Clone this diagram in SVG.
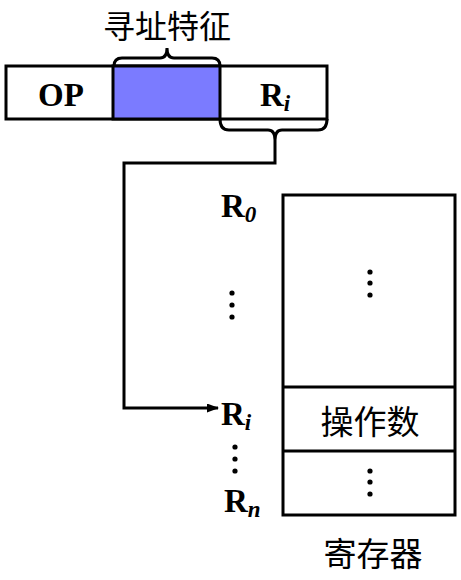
<svg xmlns="http://www.w3.org/2000/svg" width="461" height="580" viewBox="0 0 461 580">
<style>
.ln{fill:none;stroke:#000;stroke-width:3}
.bx{fill:#fff;stroke:#000;stroke-width:3}
.lt{font-family:"Liberation Serif",serif;font-weight:bold;font-size:33px;fill:#000}
.sub{font-family:"Liberation Serif",serif;font-weight:bold;font-style:italic;font-size:23px}
.cj{font-family:"Noto Sans CJK SC","Noto Sans",sans-serif;font-size:33px;fill:#000}
</style>
<defs>
<marker id="ah" markerWidth="12" markerHeight="9" refX="11" refY="4.5" orient="auto" markerUnits="userSpaceOnUse">
<path d="M0,0 L12,4.5 L0,9 Z" fill="#000"/>
</marker>
</defs>
<g id="instruction">
<rect class="bx" x="6" y="66" width="321" height="53"/>
<rect x="113" y="66" width="107" height="53" fill="#7b7bff" stroke="#000" stroke-width="3"/>
<text class="lt" x="61" y="106" text-anchor="middle">OP</text>
<text class="lt" x="260" y="106">R<tspan class="sub" dy="5">i</tspan></text>
</g>
<g id="label-top">
<text class="cj" x="167" y="38" text-anchor="middle" style="font-size:32px">寻址特征</text>
</g>
<g id="registers">
<rect class="bx" x="283" y="195" width="172" height="320"/>
<line class="ln" x1="283" y1="387" x2="455" y2="387"/>
<line class="ln" x1="283" y1="451" x2="455" y2="451"/>
<text class="cj" x="370" y="434" text-anchor="middle">操作数</text>
<g fill="#000">
<circle cx="370" cy="272" r="2.6"/><circle cx="370" cy="283" r="2.6"/><circle cx="370" cy="295" r="2.6"/>
<circle cx="370" cy="471" r="2.6"/><circle cx="370" cy="482" r="2.6"/><circle cx="370" cy="494" r="2.6"/>
</g>
<text class="cj" x="373" y="566" text-anchor="middle">寄存器</text>
</g>
<g id="reg-labels">
<text class="lt" x="221" y="217">R<tspan class="sub" dy="5">0</tspan></text>
<text class="lt" x="221" y="425">R<tspan class="sub" dy="5">i</tspan></text>
<text class="lt" x="224" y="512">R<tspan class="sub" dy="5">n</tspan></text>
<g fill="#000">
<circle cx="232" cy="293" r="2.6"/><circle cx="232" cy="305" r="2.6"/><circle cx="232" cy="317" r="2.6"/>
<circle cx="235" cy="447" r="2.6"/><circle cx="235" cy="459" r="2.6"/><circle cx="235" cy="471" r="2.6"/>
</g>
</g>
<g id="connectors">
<path class="ln" d="M114,66 Q114,58 122,58 L160,58 Q167,58 167,48 Q167,58 174,58 L212,58 Q220,58 220,66"/>
<path class="ln" d="M220,119 Q220,130 229,130 L268,130 Q275,130 275,140 Q275,130 282,130 L318,130 Q327,130 327,119"/>
<path class="ln" d="M275,140 L275,163 L124,163 L124,408 L218,408" marker-end="url(#ah)"/>
</g>
</svg>
